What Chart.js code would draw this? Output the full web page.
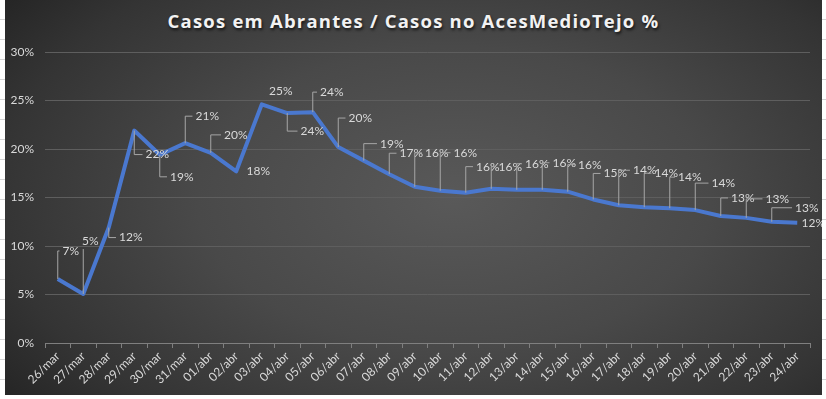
<!DOCTYPE html>
<html>
<head>
<meta charset="utf-8">
<script src="https://cdn.jsdelivr.net/npm/chart.js@4"></script>
<style>
  html, body { margin: 0; padding: 0; }
  body {
    width: 826px; height: 399px; overflow: hidden; position: relative;
    background: #fff;
  }
  .cells-left {
    position: absolute; left: 0; top: 0; width: 5px; height: 399px;
    background: repeating-linear-gradient(to bottom, #fff 0px, #fff 19px, #d4d4d4 19px, #d4d4d4 20px);
  }
  .cells-right {
    position: absolute; right: 0; top: 0; width: 4px; height: 399px;
    background: repeating-linear-gradient(to bottom, #fff 0px, #fff 19px, #d4d4d4 19px, #d4d4d4 20px);
  }
  #box {
    position: absolute; left: 5px; top: 0; width: 817px; height: 395px;
    background: radial-gradient(ellipse 70% 85% at 55% 50%, #595959 0%, #494949 45%, #343434 80%, #242424 100%);
  }
  #title {
    position: absolute; left: 0; top: 8px; width: 817px; text-align: center;
    font-family: "Open Sans", sans-serif; font-weight: bold; font-size: 18.5px;
    letter-spacing: 1.2px; color: #f2f2f2;
    text-shadow: 1px 2px 3px rgba(0,0,0,0.7);
  }
  canvas { position: absolute; left: 0; top: 0; }
</style>
</head>
<body>
<div class="cells-left"></div>
<div class="cells-right"></div>
<div id="box">
  <div id="title">Casos em Abrantes / Casos no AcesMedioTejo %</div>
  <canvas id="myChart" width="817" height="395"></canvas>
</div>
<script>
const days = ['26/mar','27/mar','28/mar','29/mar','30/mar','31/mar','01/abr','02/abr','03/abr','04/abr',
  '05/abr','06/abr','07/abr','08/abr','09/abr','10/abr','11/abr','12/abr','13/abr','14/abr',
  '15/abr','16/abr','17/abr','18/abr','19/abr','20/abr','21/abr','22/abr','23/abr','24/abr'];

// % Abrantes / AcesMedioTejo
const ratio = [6.6, 5.05, 11.9, 21.9, 19.4, 20.6, 19.6, 17.7, 24.6, 23.7,
  23.8, 20.2, 18.8, 17.4, 16.1, 15.7, 15.5, 15.9, 15.8, 15.8,
  15.6, 14.8, 14.2, 14.0, 13.9, 13.7, 13.1, 12.9, 12.5, 12.4];

const yTicks = [0, 5, 10, 15, 20, 25, 30];

// where each data label was dragged to in the original (px from the point)
const labelOffsets = [[13,-28],[7,-53],[22,10],[23,24],[22,22],[22,-27],[25,-18],[22,0],[19,-13],[25,18],
  [19,-20],[22,-29],[28,-17],[22,-21],[22,-34],[25,-38],[22,-26],[19,-22],[20,-26],[22,-27],
  [22,-27],[22,-26],[26,-35],[22,-34],[20,-31],[28,-27],[22,-18],[31,-19],[35,-14],[16,0]];

const labelFont = '12px Lato, sans-serif';

const dataLabels = {
  id: 'dataLabels',
  afterDatasetsDraw(chart) {
    const {ctx} = chart;
    const meta = chart.getDatasetMeta(0);
    ctx.save();
    ctx.font = labelFont;
    ctx.textAlign = 'center';
    ctx.textBaseline = 'middle';
    meta.data.forEach((pt, i) => {
      const [dx, dy] = labelOffsets[i];
      const txt = Math.round(ratio[i]) + '%';
      const lx = pt.x + dx, ly = pt.y + dy;
      const w = ctx.measureText(txt).width;
      const left = lx - w / 2;
      if (Math.hypot(dx, dy) > 24) {
        ctx.strokeStyle = '#a6a6a6';
        ctx.lineWidth = 1;
        ctx.beginPath();
        ctx.moveTo(pt.x, pt.y);
        if (left - 3 > pt.x + 1) {
          ctx.lineTo(pt.x, ly);
          ctx.lineTo(left - 3, ly);
        } else {
          ctx.lineTo(pt.x, ly + (dy < 0 ? 8 : -8));
        }
        ctx.stroke();
      }
      ctx.fillStyle = '#d9d9d9';
      ctx.fillText(txt, lx, ly);
    });
    ctx.restore();
  }
};

const ctx = document.getElementById('myChart');

new Chart(ctx, {
  type: 'line',
  data: {
    labels: days,
    datasets: [{
      data: ratio,
      borderColor: '#4a78cf',
      borderWidth: 4,
      pointRadius: 0,
      tension: 0,
      borderJoinStyle: 'round',
      borderCapStyle: 'butt'
    }]
  },
  options: {
    responsive: false,
    animation: false,
    layout: { padding: { top: 52, right: 12, left: 0, bottom: 0 } },
    plugins: {
      legend: { display: false },
      tooltip: { enabled: false }
    },
    scales: {
      x: {
        offset: true,
        grid: {
          offset: true,
          drawOnChartArea: false,
          drawTicks: true,
          tickLength: 5,
          color: '#7f7f7f'
        },
        border: { display: true, color: '#7f7f7f' },
        ticks: {
          color: '#d9d9d9',
          font: { family: 'Lato', size: 12 },
          minRotation: 45,
          maxRotation: 45,
          autoSkip: false,
          padding: 1
        },
        afterFit(scale) { scale.height = 52; }
      },
      y: {
        min: 0,
        max: 30,
        afterBuildTicks(scale) { scale.ticks = yTicks.map(v => ({value: v})); },
        grid: { color: '#5e5e5e', drawTicks: false },
        border: { display: false },
        ticks: {
          color: '#d9d9d9',
          font: { family: 'Lato', size: 12 },
          padding: 11,
          callback: v => v + '%'
        },
        afterFit(scale) { scale.width = 40; }
      }
    }
  },
  plugins: [dataLabels]
});
</script>
</body>
</html>
